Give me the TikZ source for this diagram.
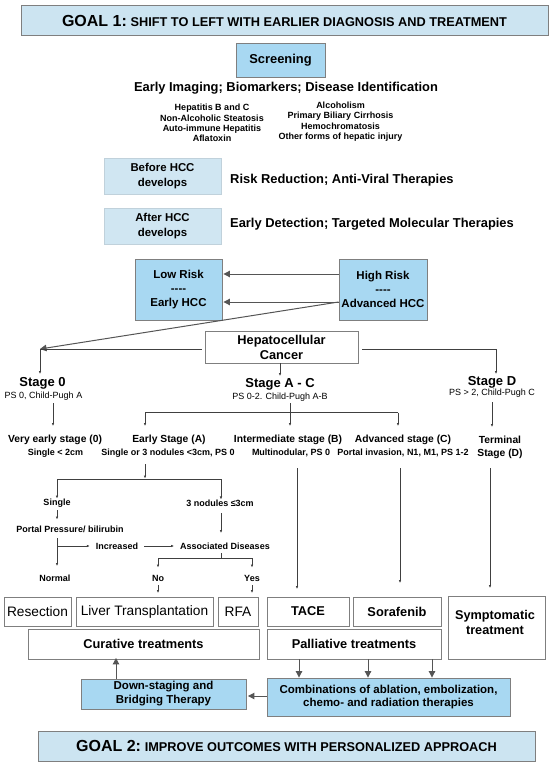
\documentclass[tikz,border=0pt]{standalone}
\usepackage{fontspec}
\setmainfont{Liberation Sans}
\usetikzlibrary{arrows.meta,shadows}
\definecolor{goalblue}{HTML}{CCE4F1}
\definecolor{paleblue}{HTML}{D0E6F2}
\definecolor{skyblue}{HTML}{A8D8F2}
\definecolor{bordergray}{HTML}{7F7F7F}
\definecolor{linegray}{HTML}{555555}
\definecolor{treegray}{HTML}{404040}
\newcommand{\fsz}[2]{\fontsize{#1}{#2}\selectfont}
\begin{document}
\begin{tikzpicture}[x=1pt,y=-1pt,
  boxbase/.style={draw=bordergray, line width=0.9pt, inner sep=0pt, align=center, text=black},
  wbox/.style={boxbase, fill=white, drop shadow={shadow xshift=0.9pt, shadow yshift=-0.9pt, opacity=0.45, fill=gray}},
  sbox/.style={boxbase, fill=skyblue},
  gbox/.style={boxbase, fill=goalblue},
  pbox/.style={inner sep=0pt, align=center, fill=paleblue, draw=paleblue!80!gray, line width=0.4pt},
  btext/.style={inner sep=0pt, align=center, font=\bfseries},
  rtext/.style={inner sep=0pt, align=center},
  tline/.style={draw=treegray, line width=0.7pt},
  tarrow/.style={tline, -{Latex[length=3pt,width=2.6pt]}},
  bigline/.style={draw=linegray, line width=1pt},
  bigarrow/.style={bigline, -{Triangle[length=6.5pt,width=6.5pt]}},
]
\useasboundingbox (0,0) rectangle (553,765);

% ---------- Goal 1 and screening ----------
\node[gbox, minimum width=527pt, minimum height=30pt] (goal1) at (284.5,20.5)
  {\bfseries{\fsz{16}{19}GOAL 1:} {\fsz{12.75}{15}SHIFT TO LEFT WITH EARLIER DIAGNOSIS AND TREATMENT}};
\node[sbox, minimum width=89pt, minimum height=34pt, font=\bfseries\fsz{12.9}{15}] (screen) at (280.5,60.3) {Screening};
\node[btext, font=\bfseries\fsz{12.9}{15}] (imaging) at (286,88.5) {Early Imaging; Biomarkers; Disease Identification};
\node[btext, font=\bfseries\fsz{9}{10.4}] (leftlist) at (212,123)
  {Hepatitis B and C\\Non-Alcoholic Steatosis\\Auto-immune Hepatitis\\Aflatoxin};
\node[btext, font=\bfseries\fsz{9}{10.4}] (rightlist) at (340.5,121.5)
  {Alcoholism\\Primary Biliary Cirrhosis\\Hemochromatosis\\Other forms of hepatic injury};

% ---------- Before / After ----------
\node[pbox, minimum width=117pt, minimum height=36pt, font=\bfseries\fsz{11.4}{15}] (before) at (162.5,176.2) {Before HCC\\develops};
\node[btext, anchor=west, font=\bfseries\fsz{12.9}{15}] (beforetxt) at (230,180) {Risk Reduction; Anti-Viral Therapies};
\node[pbox, minimum width=117pt, minimum height=36pt, font=\bfseries\fsz{11.4}{15}] (after) at (162.5,226.2) {After HCC\\develops};
\node[btext, anchor=west, font=\bfseries\fsz{12.9}{15}] (aftertxt) at (230,224) {Early Detection; Targeted Molecular Therapies};

% ---------- Risk boxes ----------
\node[sbox, minimum width=87pt, minimum height=61pt, font=\bfseries\fsz{11.5}{14}] (low) at (178.5,289.5) {Low Risk\\-{}-{}-{}-\\Early HCC};
\node[sbox, minimum width=88pt, minimum height=61pt, font=\bfseries\fsz{11.5}{14}] (high) at (383,289.5) {High Risk\\-{}-{}-{}-\\Advanced HCC};
\draw[bigarrow] (high.west |- 0,274) -- ([xshift=1pt]low.east |- 0,274);
\draw[bigarrow] (high.west |- 0,302) -- ([xshift=1pt]low.east |- 0,302);

% ---------- HCC ----------
\node[wbox, minimum width=153pt, minimum height=32pt, font=\bfseries\fsz{12.8}{15}] (hcc) at (281.5,347) {Hepatocellular\\Cancer};
\coordinate (s0corner) at (40,349);
\coordinate (sDcorner) at (496,349);
\draw[bigarrow] (high.west |- 0,302) -- (s0corner);
\draw[tline] ([xshift=-3pt]hcc.west |- s0corner) -- (s0corner);
\draw[tline] ([xshift=4pt]hcc.east |- sDcorner) -- (sDcorner);

% ---------- Stages ----------
\node[btext, font=\bfseries\fsz{13}{15}] (stage0) at (42.5,383) {Stage 0};
\node[rtext, font=\fsz{9}{11}] (stage0s) at (43.5,396) {PS 0, Child-Pugh A};
\node[btext, font=\bfseries\fsz{13}{15}] (stageac) at (280,384) {Stage A - C};
\node[rtext, font=\fsz{9}{11}] (stageacs) at (280,397.5) {PS 0-2. Child-Pugh A-B};
\node[btext, font=\bfseries\fsz{13}{15}] (stageD) at (492,382) {Stage D};
\node[rtext, font=\fsz{9}{11}] (stageDs) at (492,393.5) {PS > 2, Child-Pugh C};

\draw[tarrow] (s0corner) -- (40,374);
\draw[tarrow] (hcc.south -| 280,0) -- (280,376);
\draw[tarrow] (sDcorner) -- (496,374);

% ---------- Sub-stages ----------
\node[btext, font=\bfseries\fsz{10.3}{12}] (vearly) at (55,440) {Very early stage (0)};
\node[btext, font=\bfseries\fsz{9}{11}] (vearlys) at (55.5,453) {Single < 2cm};
\node[btext, font=\bfseries\fsz{10.3}{12}] (early) at (169,440) {Early Stage (A)};
\node[btext, font=\bfseries\fsz{9}{11}] (earlys) at (168,453) {Single or 3 nodules <3cm, PS 0};
\node[btext, font=\bfseries\fsz{10.3}{12}] (inter) at (288,440) {Intermediate stage (B)};
\node[btext, font=\bfseries\fsz{9}{11}] (inters) at (291,453) {Multinodular, PS 0};
\node[btext, font=\bfseries\fsz{10.3}{12}] (adv) at (403,440) {Advanced stage (C)};
\node[btext, font=\bfseries\fsz{9}{11}] (advs) at (403,453) {Portal invasion, N1, M1, PS 1-2};
\node[btext, font=\bfseries\fsz{10.3}{13}] (term) at (500,447.5) {Terminal\\Stage (D)};

\draw[tarrow] (53,403) -- (53,426);
\draw[tarrow] (290,403) -- (290,426);
\coordinate (acL) at (145,412.5);
\coordinate (acR) at (398,412.5);
\draw[tline] (acL) -- (acR);
\draw[tarrow] (acL) -- (145,426);
\draw[tarrow] (acR) -- (398,426);
\draw[tarrow] (492,402) -- (492,427);

% ---------- Early stage tree ----------
\coordinate (eL) at (57,479);
\coordinate (eR) at (221,479);
\draw[tarrow] (145,464) -- (145,478.5);
\draw[tline] (eL) -- (eR);
\node[btext, font=\bfseries\fsz{9}{11}] (single) at (57,503) {Single};
\node[btext, font=\bfseries\fsz{9}{11}] (three) at (220,503) {3 nodules ≤3cm};
\draw[tarrow] (eL) -- (single.north);
\draw[tarrow] (eR) -- (three.north -| eR);
\node[btext, font=\bfseries\fsz{9}{11}] (portal) at (70,529) {Portal Pressure/ bilirubin};
\draw[tarrow] (single.south |- 0,510) -- (single.south |- 0,519.5);
\coordinate (pj) at (57,546);
\node[btext, font=\bfseries\fsz{9}{11}] (incr) at (117,546) {Increased};
\node[btext, font=\bfseries\fsz{9}{11}] (assoc) at (225,546) {Associated Diseases};
\node[btext, font=\bfseries\fsz{9}{11}] (normal) at (55,578) {Normal};
\draw[tline] (pj |- 0,538) -- (pj);
\draw[tarrow] (pj) -- (57,566);
\draw[tarrow] (pj) -- ([xshift=-6pt]incr.west);
\draw[tarrow] ([xshift=6pt]incr.east) -- ([xshift=-6pt]assoc.west);
\draw[tarrow] (eR |- 0,513) -- (eR |- 0,533);
\coordinate (aL) at (158,558);
\coordinate (aR) at (252,558);
\draw[tline] (eR |- 0,553) -- (eR |- aL);
\draw[tline] (aL) -- (aR);
\node[btext, font=\bfseries\fsz{9}{11}] (no) at (158,578) {No};
\node[btext, font=\bfseries\fsz{9}{11}] (yes) at (252,578) {Yes};
\draw[tarrow] (aL) -- (158,567.5);
\draw[tarrow] (aR) -- (252,567.5);

% ---------- Treatments ----------
\node[wbox, minimum width=67pt, minimum height=29pt, font=\fsz{13.7}{16}] (resect) at (37.5,611.5) {Resection};
\node[wbox, minimum width=137pt, minimum height=29pt, font=\fsz{13.7}{16}] (lt) at (144.5,611.5) {Liver Transplantation};
\node[wbox, minimum width=40pt, minimum height=29pt, font=\fsz{13.7}{16}] (rfa) at (238,611.5) {RFA};
\node[wbox, minimum width=82pt, minimum height=29pt, font=\bfseries\fsz{12.8}{15}] (tace) at (308,611.5) {TACE};
\node[wbox, minimum width=88pt, minimum height=29pt, font=\bfseries\fsz{12.8}{15}] (sora) at (397,611.5) {Sorafenib};
\node[wbox, minimum width=97pt, minimum height=63pt] (symp) at (496.5,627.5) {};
\node[btext, font=\bfseries\fsz{12.7}{15}] (symptxt) at (495,622.5) {Symptomatic\\treatment};

\draw[tarrow] (no.south |- 0,585) -- (no.south |- 0,593);
\draw[tarrow] (yes.south |- 0,585) -- (yes.south |- 0,593);
\draw[tarrow] (297,468) -- (297,589);
\draw[tarrow] (400,468) -- (400,583);
\draw[tarrow] (490,468) -- (490,588);

\node[wbox, minimum width=231pt, minimum height=30pt, font=\bfseries\fsz{12.8}{15}] (cur) at (143.5,644) {Curative treatments};
\node[wbox, minimum width=174pt, minimum height=30pt, font=\bfseries\fsz{12.8}{15}] (pal) at (354,644) {Palliative treatments};

\node[sbox, minimum width=243pt, minimum height=38pt, font=\bfseries\fsz{11.5}{13.5}] (combo) at (388.5,697)
  {Combinations of ablation, embolization,\\chemo- and radiation therapies};
\node[sbox, minimum width=165pt, minimum height=30pt, font=\bfseries\fsz{11.5}{14}] (down) at (163.5,694)
  {Down-staging and\\Bridging Therapy};

\draw[bigarrow] (pal.south -| 299,0) -- (combo.north -| 299,0);
\draw[bigarrow] (pal.south -| 368,0) -- (combo.north -| 368,0);
\draw[bigarrow] (pal.south -| 432,0) -- (combo.north -| 432,0);
\draw[bigarrow] (combo.west |- 0,696) -- ([xshift=1.5pt]down.east |- 0,696);
\draw[bigarrow] (down.north -| 116,0) -- ([yshift=1.5pt]cur.south -| 116,0);

% ---------- Goal 2 ----------
\node[gbox, minimum width=497pt, minimum height=30pt] (goal2) at (286.5,746)
  {\bfseries{\fsz{16}{19}GOAL 2:} {\fsz{12.75}{15}IMPROVE OUTCOMES WITH PERSONALIZED APPROACH}};
\end{tikzpicture}
\end{document}
